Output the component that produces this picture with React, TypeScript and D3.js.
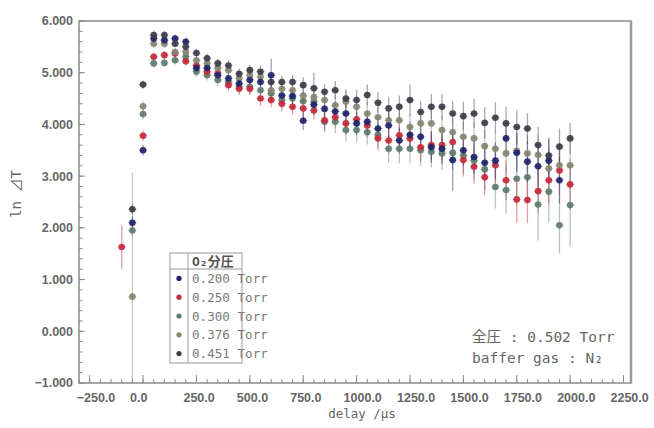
import React from "react";
import * as d3 from "d3";

const times = [
  -100, -50, 0, 50, 100, 150, 200, 250, 300, 350,
  400, 450, 500, 550, 600, 650, 700, 750, 800, 850,
  900, 950, 1000, 1050, 1100, 1150, 1200, 1250, 1300, 1350,
  1400, 1450, 1500, 1550, 1600, 1650, 1700, 1750, 1800, 1850,
  1900, 1950, 2000,
];

const seriesLabels = ["0.200 Torr", "0.250 Torr", "0.300 Torr", "0.376 Torr", "0.451 Torr"];
const seriesColors = ["#20246a", "#c52a3c", "#5d7d6e", "#858570", "#3d3d4a"];

const v200 = [
  null, 2.10, 3.50, 5.66, 5.63, 5.66, 5.60, 5.09, 5.09, 4.95,
  4.89, 4.79, 4.86, 4.82, 4.95, 4.56, 4.55, 4.07, 4.38, 4.30,
  4.25, 4.21, 4.02, 4.05, 3.92, 3.98, 3.69, 3.80, 3.76, 3.56,
  3.53, 3.31, 3.50, 3.37, 3.26, 3.30, 3.73, 3.45, 3.28, 3.19,
  3.30, 2.92, null,
];
const e200 = [
  0, 0.12, 0.10, 0.08, 0.08, 0.08, 0.08, 0.10, 0.10, 0.10,
  0.12, 0.12, 0.12, 0.15, 0.32, 0.15, 0.15, 0.18, 0.20, 0.20,
  0.20, 0.22, 0.22, 0.22, 0.25, 0.25, 0.25, 0.25, 0.28, 0.30,
  0.30, 0.60, 0.30, 0.32, 0.35, 0.35, 0.35, 0.38, 0.40, 0.40,
  0.42, 0.45, 0,
];
const v250 = [
  1.63, null, 3.78, 5.31, 5.34, 5.37, 5.22, 5.14, 5.02, 4.99,
  4.76, 4.69, 4.69, 4.50, 4.47, 4.40, 4.34, 4.31, 4.27, 4.08,
  4.14, 4.02, 4.10, 3.98, 3.73, 3.69, 3.79, 3.73, 3.56, 3.60,
  3.60, 3.66, 3.31, 3.18, 2.98, 3.21, 2.92, 2.55, 2.54, 2.71,
  2.92, 3.11, 2.84,
];
const e250 = [
  0.42, 0, 0.10, 0.08, 0.08, 0.08, 0.08, 0.10, 0.10, 0.10,
  0.12, 0.12, 0.12, 0.14, 0.14, 0.15, 0.15, 0.18, 0.18, 0.20,
  0.20, 0.22, 0.22, 0.22, 0.24, 0.25, 0.25, 0.25, 0.28, 0.28,
  0.30, 0.30, 0.32, 0.32, 0.35, 0.35, 0.38, 0.45, 0.45, 0.42,
  0.45, 0.50, 0.50,
];
const v300 = [
  null, 1.95, 4.20, 5.18, 5.19, 5.24, 5.31, 5.02, 4.95, 4.86,
  4.82, 4.73, 4.73, 4.66, 4.60, 4.47, 4.50, 4.45, 4.44, 4.05,
  4.05, 3.89, 3.89, 3.85, 3.80, 3.53, 3.53, 3.53, 3.50, 3.47,
  3.44, 3.45, 3.40, 3.30, 3.13, 2.79, 2.73, 2.95, 2.98, 2.45,
  2.70, 2.05, 2.44,
];
const e300 = [
  0, 0.12, 0.10, 0.08, 0.08, 0.08, 0.08, 0.10, 0.10, 0.12,
  0.12, 0.12, 0.14, 0.14, 0.15, 0.16, 0.18, 0.18, 0.20, 0.20,
  0.22, 0.22, 0.24, 0.24, 0.25, 0.26, 0.28, 0.28, 0.30, 0.30,
  0.32, 0.32, 0.35, 0.35, 0.40, 0.42, 0.45, 0.50, 0.50, 0.70,
  0.60, 0.55, 0.80,
];
const v376 = [
  null, 0.67, 4.35, 5.56, 5.56, 5.40, 5.40, 5.24, 5.18, 5.09,
  5.05, 4.89, 4.95, 4.92, 4.66, 4.69, 4.66, 4.56, 4.53, 4.47,
  4.37, 4.44, 4.34, 4.21, 4.14, 4.08, 4.08, 3.95, 4.02, 4.02,
  3.89, 3.85, 3.76, 3.73, 3.58, 3.53, 3.44, 3.49, 3.44, 3.41,
  3.15, 3.21, 3.21,
];
const e376 = [
  0, 2.40, 0.10, 0.08, 0.08, 0.08, 0.08, 0.10, 0.10, 0.10,
  0.10, 0.12, 0.12, 0.12, 0.14, 0.14, 0.15, 0.16, 0.18, 0.18,
  0.20, 0.20, 0.20, 0.22, 0.22, 0.22, 0.24, 0.25, 0.25, 0.26,
  0.28, 0.28, 0.30, 0.30, 0.32, 0.32, 0.35, 0.35, 0.36, 0.38,
  0.40, 0.40, 0.45,
];
const v451 = [
  null, 2.36, 4.77, 5.73, 5.73, 5.56, 5.50, 5.38, 5.28, 5.18,
  5.14, 4.98, 5.05, 5.02, 4.82, 4.82, 4.82, 4.76, 4.70, 4.63,
  4.66, 4.50, 4.47, 4.57, 4.42, 4.31, 4.34, 4.47, 4.24, 4.34,
  4.34, 4.21, 4.16, 4.21, 4.03, 4.13, 4.02, 3.95, 3.92, 3.60,
  3.40, 3.57, 3.73,
];
const e451 = [
  0, 0.10, 0.08, 0.08, 0.08, 0.07, 0.08, 0.08, 0.09, 0.09,
  0.10, 0.10, 0.10, 0.12, 0.12, 0.12, 0.14, 0.15, 0.30, 0.15,
  0.18, 0.18, 0.20, 0.20, 0.20, 0.22, 0.22, 0.30, 0.22, 0.25,
  0.25, 0.25, 0.28, 0.28, 0.30, 0.30, 0.32, 0.32, 0.30, 0.35,
  0.35, 0.35, 0.30,
];

const seriesValues = [v200, v250, v300, v376, v451];
const seriesErrors = [e200, e250, e300, e376, e451];
// draw order (back to front)
const drawOrder = [2, 1, 3, 0, 4];

const xMinorTicks = d3.range(-300, 2251, 50);
const xMajorTicks = [-250, 0, 250, 500, 750, 1000, 1250, 1500, 1750, 2000, 2250];
const yMajorTicks = [-1, 0, 1, 2, 3, 4, 5, 6];
const yMinorTicks = d3.range(-1, 6.0001, 0.2);

const annotation1 = "全圧 : 0.502 Torr";
const annotation2 = "baffer gas : N₂";
const legendTitle = "O₂分圧";
const xTitle = "delay /μs";
const yTitle = "ln ⊿T";

const W = 654;
const H = 428;
const PL = 79, PR = 631, PT = 21, PB = 383;

const x = d3.scaleLinear().domain([-300, 2285]).range([PL, PR]);
const y = d3.scaleLinear().domain([-1, 6]).range([PB, PT]);

const mono = '"DejaVu Sans Mono", "Noto Sans CJK JP", monospace';
const sans = '"Liberation Sans", Arial, sans-serif';
const axisGrey = "#8a8a8a";
const textGrey = "#666";

export default function App() {
  const bars: JSX.Element[] = [];
  const dots: JSX.Element[] = [];
  drawOrder.forEach((si) => {
    const vals = seriesValues[si];
    const errs = seriesErrors[si];
    const c = seriesColors[si];
    vals.forEach((v, i) => {
      if (v === null || v === undefined) return;
      const t = times[i];
      const e = errs[i] || 0;
      if (e > 0) {
        bars.push(
          <line key={`b${si}-${i}`} x1={x(t)} x2={x(t)} y1={y(v + e)} y2={y(v - e)}
            stroke={c} strokeOpacity={0.45} strokeWidth={1.3} />
        );
      }
      dots.push(
        <g key={`d${si}-${i}`}>
          <line x1={x(t) - 4} x2={x(t) + 4} y1={y(v)} y2={y(v)} stroke={c} strokeOpacity={0.6} strokeWidth={1} />
          <circle cx={x(t)} cy={y(v)} r={3.3} fill={c} fillOpacity={0.92} />
        </g>
      );
    });
  });

  const legendX0 = 170, legendX1 = 242, legendY0 = 253, legendHead = 269, legendY1 = 363;
  const rowH = (legendY1 - legendHead) / seriesLabels.length;

  return (
    <svg width={W} height={H} style={{ position: "absolute", left: 0, top: 0, background: "#fff" }}>
      <rect x={0} y={0} width={W} height={H} fill="#fff" />
      <defs>
        <clipPath id="plotclip">
          <rect x={PL} y={PT} width={PR - PL} height={PB - PT} />
        </clipPath>
      </defs>

      {/* data */}
      <g clipPath="url(#plotclip)">
        {bars}
        {dots}
      </g>

      {/* frame */}
      <rect x={PL} y={PT} width={PR - PL} height={PB - PT} fill="none" stroke={axisGrey} strokeWidth={1.5} />
      <line x1={PR} x2={PR} y1={PT} y2={PB} stroke="#9a9a9a" strokeWidth={2.5} />

      {/* y ticks */}
      {yMinorTicks.map((t, i) => (
        <line key={`ym${i}`} x1={PL} x2={PL + 3.5} y1={y(t)} y2={y(t)} stroke={axisGrey} strokeWidth={1} />
      ))}
      {yMajorTicks.map((t) => (
        <g key={`yM${t}`}>
          <line x1={PL} x2={PL + 6} y1={y(t)} y2={y(t)} stroke={axisGrey} strokeWidth={1} />
          <text x={PL - 6} y={y(t)} dy="0.35em" textAnchor="end" fontFamily={sans} fontWeight="bold"
            fontSize={12.5} fill={textGrey}>{d3.format(".3f")(t)}</text>
        </g>
      ))}

      {/* x ticks */}
      {xMinorTicks.map((t) => (
        <line key={`xm${t}`} x1={x(t)} x2={x(t)} y1={PB} y2={PB - 4} stroke={axisGrey} strokeWidth={1} />
      ))}
      {xMajorTicks.map((t) => (
        <g key={`xM${t}`}>
          <line x1={x(t)} x2={x(t)} y1={PB} y2={PB - 8} stroke={axisGrey} strokeWidth={1} />
          <text x={x(t) - 13} y={402} textAnchor="start" fontFamily={sans} fontWeight="bold"
            fontSize={12.5} fill={textGrey}>{d3.format(".1f")(t)}</text>
        </g>
      ))}

      {/* axis titles */}
      <text x={362} y={418} textAnchor="middle" fontFamily={mono} fontSize={12.5} fill={textGrey}>{xTitle}</text>
      <text transform="translate(21,194) rotate(-90)" textAnchor="middle" fontFamily={mono} fontSize={14}
        fill={textGrey}>{yTitle}</text>

      {/* legend */}
      <rect x={legendX0} y={legendY0} width={legendX1 - legendX0} height={legendY1 - legendY0} fill="#fff"
        stroke="#9a9a9a" strokeWidth={1} />
      <line x1={legendX0} x2={legendX1} y1={legendHead} y2={legendHead} stroke="#9a9a9a" strokeWidth={1} />
      <line x1={188} x2={188} y1={legendY0} y2={legendY1} stroke="#9a9a9a" strokeWidth={1} />
      <text x={192} y={266} fontFamily={mono} fontWeight="bold" fontSize={13} fill="#555">{legendTitle}</text>
      {seriesLabels.map((lab, i) => {
        const cy = legendHead + rowH * (i + 0.5);
        return (
          <g key={lab}>
            <circle cx={179} cy={cy} r={2.6} fill={seriesColors[i]} />
            <text x={192} y={cy} dy="0.36em" fontFamily={mono} fontSize={12.6} fill="#7a7a7a">{lab}</text>
          </g>
        );
      })}

      {/* annotation */}
      <text x={472} y={342} fontFamily={mono} fontSize={14.5} fill={textGrey}>{annotation1}</text>
      <text x={472} y={363} fontFamily={mono} fontSize={14.5} fill={textGrey}>{annotation2}</text>
    </svg>
  );
}
